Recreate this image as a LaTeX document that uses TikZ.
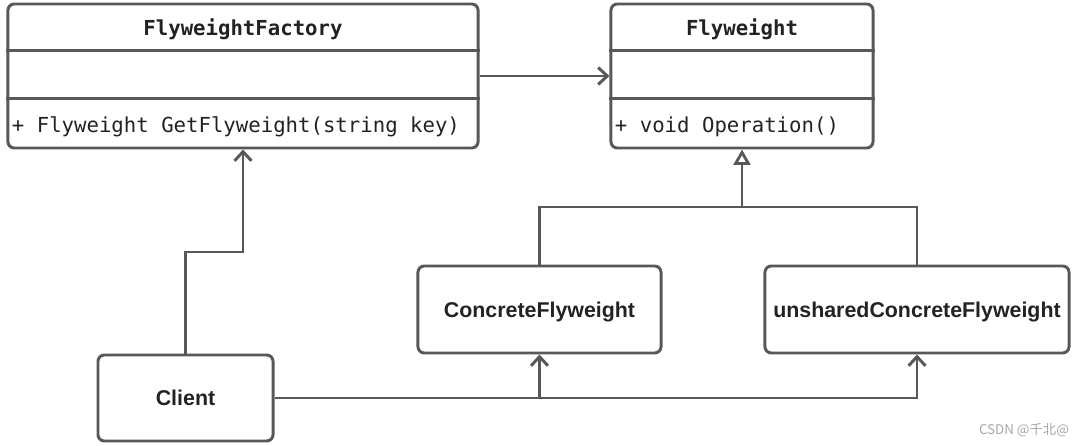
\documentclass[tikz,border=0pt]{standalone}
\usepackage{fontspec}
\setmainfont{Liberation Sans}
\setmonofont{DejaVu Sans Mono}
\newfontfamily\cjkfont{Noto Sans CJK SC}
\usepackage{tikz}
\usetikzlibrary{arrows.meta, positioning}

\definecolor{umlgray}{HTML}{585858}
\definecolor{umltext}{HTML}{222222}

\begin{document}
\begin{tikzpicture}[x=0.025cm, y=-0.025cm,
    line width=2.1pt, draw=umlgray, text=umltext,
    classbox/.style={draw=umlgray, rounded corners=4.5pt, inner sep=0pt},
    plainbox/.style={classbox, text depth=0pt, font=\fontsize{15.2}{18}\selectfont\bfseries},
    classname/.style={font=\fontsize{14.7}{17}\selectfont\ttfamily\bfseries},
    member/.style={font=\fontsize{14.7}{17}\selectfont\ttfamily, anchor=west, inner xsep=0.1cm},
    assoc/.style={umlgray, -{Straight Barb[length=6.5pt, width=12pt]}},
    inherit/.style={umlgray, -{Triangle[open, length=11pt, width=12pt, line width=2pt]}}]
        \useasboundingbox (0,0) rectangle (1080,446);
        % classes
        \node[classbox, minimum width=11.75cm, minimum height=3.6cm] (factory) at (243,76) {};
        \draw[umlgray] ([yshift=-1.2cm]factory.north west) -- ([yshift=-1.2cm]factory.north east);
        \draw[umlgray] ([yshift=-2.4cm]factory.north west) -- ([yshift=-2.4cm]factory.north east);
        \node[classname] (factory-name) at ([yshift=-0.68cm]factory.north) {FlyweightFactory};
        \node[member] (factory-op) at ([yshift=-3.1cm]factory.north west) {+ Flyweight GetFlyweight(string key)};
        \node[classbox, minimum width=6.55cm, minimum height=3.6cm] (flyweight) at (742,76) {};
        \draw[umlgray] ([yshift=-1.2cm]flyweight.north west) -- ([yshift=-1.2cm]flyweight.north east);
        \draw[umlgray] ([yshift=-2.4cm]flyweight.north west) -- ([yshift=-2.4cm]flyweight.north east);
        \node[classname] (flyweight-name) at ([yshift=-0.68cm]flyweight.north) {Flyweight};
        \node[member] (flyweight-op) at ([yshift=-3.1cm]flyweight.north west) {+ void Operation()};
        % concrete classes and client
        \node[plainbox, minimum width=6.075cm, minimum height=2.175cm] (concrete) at (539.5,309.5) {ConcreteFlyweight};
        \node[plainbox, minimum width=7.6cm, minimum height=2.175cm] (unshared) at (917,309.5) {unsharedConcreteFlyweight};
        \node[plainbox, minimum width=4.375cm, minimum height=2.15cm] (client) at (185.5,398) {Client};
        % connectors
        \draw[assoc] (factory.east) -- (flyweight.west);
        \coordinate (bus) at (742,207);
        \draw[umlgray] (concrete.north) |- (bus) -| (unshared.north);
        \draw[inherit] (bus) -- (flyweight.south);
        \coordinate (bend) at (243,252);
        \draw[assoc] (client.north) |- (bend) -- (factory.south);
        \draw[assoc] (client.east) -| (unshared.south);
        \draw[assoc] (client.east -| concrete.south) -- (concrete.south);
        % watermark
        \node[text=gray!70, font=\cjkfont\fontsize{9.5}{11}\selectfont] (mark) at (1024,430) {CSDN @千北@};
\end{tikzpicture}
\end{document}
